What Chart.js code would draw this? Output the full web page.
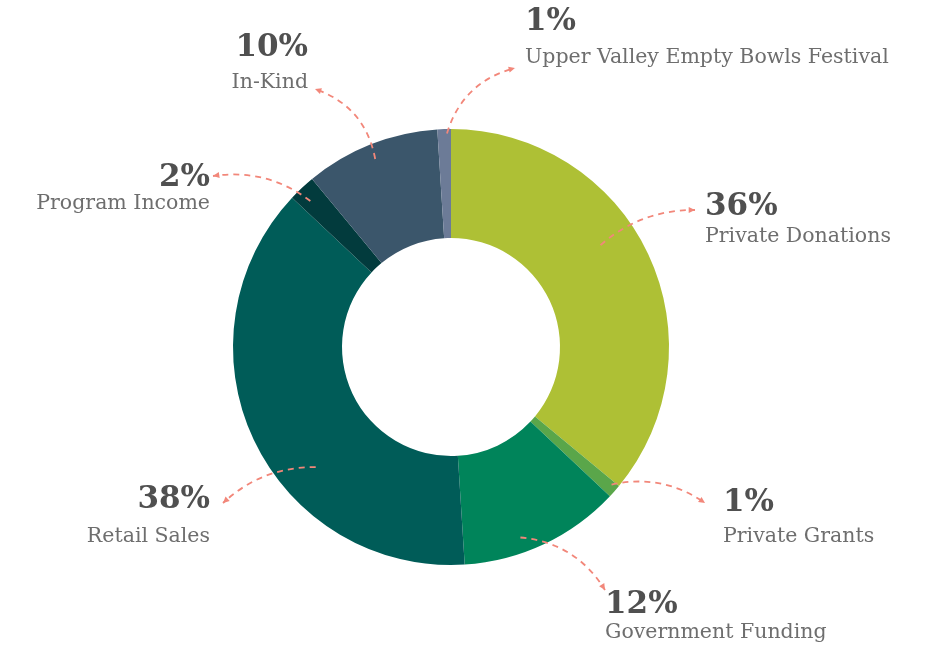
<!DOCTYPE html>
<html>
<head>
<meta charset="utf-8">
<script src="https://cdn.jsdelivr.net/npm/chart.js@4"></script>
<style>
	html, body { margin: 0; padding: 0; background: #fff; }
	#wrap { width: 934px; height: 648px; position: relative; }
</style>
</head>
<body>
<div id="wrap"><canvas id="graficoFontes"></canvas></div>
<script>
const categorias = ['Private Donations', 'Private Grants', 'Government Funding', 'Retail Sales', 'Program Income', 'In-Kind', 'Upper Valley Empty Bowls Festival'];
const percentuais = [36, 1, 12, 38, 2, 10, 1];
const cores = ['#aec035', '#5aa64a', '#00845a', '#005c58', '#023b3d', '#3b566b', '#6c7b97'];

// label placement, relative to the doughnut centre (text x, pct y, name y, align)
const rotulos = [
	{ x: 254, yp: -140, yn: -110, align: 'left', end: [244, -137], t: 0.43, r: 0.83, bend: -0.19 },
	{ x: 272, yp: 156, yn: 190, align: 'left', end: [254, 156], t: 0.28, r: 0.97, bend: -0.22 },
	{ x: 154, yp: 258, yn: 286, align: 'left', end: [154, 243], t: 0.62, r: 0.93, bend: -0.25 },
	{ x: -241, yp: 153, yn: 190, align: 'right', end: [-228, 156], t: 0.38, r: 0.83, bend: 0.2 },
	{ x: -241, yp: -169, yn: -143, align: 'right', end: [-238, -171], t: 0.4, r: 0.93, bend: 0.21 },
	{ x: -143, yp: -299, yn: -264, align: 'right', end: [-136, -258], t: 0.49, r: 0.93, bend: 0.29 },
	{ x: 74, yp: -325, yn: -289, align: 'left', end: [64, -279], t: 0.7, r: 0.98, bend: -0.28 },
];

const rotulosPlugin = {
	id: 'rotulos',
	afterDatasetsDraw(chart) {
		const ctx = chart.ctx;
		const arcs = chart.getDatasetMeta(0).data;
		arcs.forEach((arc, i) => {
			const cfg = rotulos[i];
			const cx = arc.x, cy = arc.y;
			const ang = arc.startAngle + (arc.endAngle - arc.startAngle) * cfg.t;
			const sx = cx + Math.cos(ang) * arc.outerRadius * cfg.r;
			const sy = cy + Math.sin(ang) * arc.outerRadius * cfg.r;
			const ex = cx + cfg.end[0], ey = cy + cfg.end[1];
			const dx = ex - sx, dy = ey - sy;
			const qx = (sx + ex) / 2 - dy * cfg.bend;
			const qy = (sy + ey) / 2 + dx * cfg.bend;

			ctx.save();
			ctx.strokeStyle = '#f2877a';
			ctx.fillStyle = '#f2877a';
			ctx.lineWidth = 1.8;
			ctx.setLineDash([6, 5]);
			ctx.beginPath();
			ctx.moveTo(sx, sy);
			ctx.quadraticCurveTo(qx, qy, ex, ey);
			ctx.stroke();
			ctx.setLineDash([]);
			const a = Math.atan2(ey - qy, ex - qx);
			ctx.beginPath();
			ctx.moveTo(ex, ey);
			ctx.lineTo(ex - 7 * Math.cos(a - 0.45), ey - 7 * Math.sin(a - 0.45));
			ctx.lineTo(ex - 7 * Math.cos(a + 0.45), ey - 7 * Math.sin(a + 0.45));
			ctx.closePath();
			ctx.fill();

			ctx.textAlign = cfg.align;
			ctx.textBaseline = 'middle';
			ctx.fillStyle = '#505050';
			ctx.font = 'bold 31px "DejaVu Serif"';
			ctx.fillText(percentuais[i] + '%', cx + cfg.x, cy + cfg.yp);
			ctx.fillStyle = '#6e6e6e';
			ctx.font = '20.5px "DejaVu Serif"';
			ctx.fillText(categorias[i], cx + cfg.x, cy + cfg.yn);
			ctx.restore();
		});
	},
};

document.addEventListener('DOMContentLoaded', () => {
	new Chart(document.getElementById('graficoFontes'), {
		type: 'doughnut',
		data: {
			labels: categorias,
			datasets: [
				{
					data: percentuais,
					backgroundColor: cores,
					borderWidth: 0,
				},
			],
		},
		options: {
			responsive: true,
			maintainAspectRatio: false,
			animation: false,
			cutout: '50%',
			layout: {
				padding: { top: 129, bottom: 83, left: 233, right: 265 },
			},
			plugins: {
				legend: { display: false },
				tooltip: { enabled: false },
			},
		},
		plugins: [rotulosPlugin],
	});
});
</script>
</body>
</html>
